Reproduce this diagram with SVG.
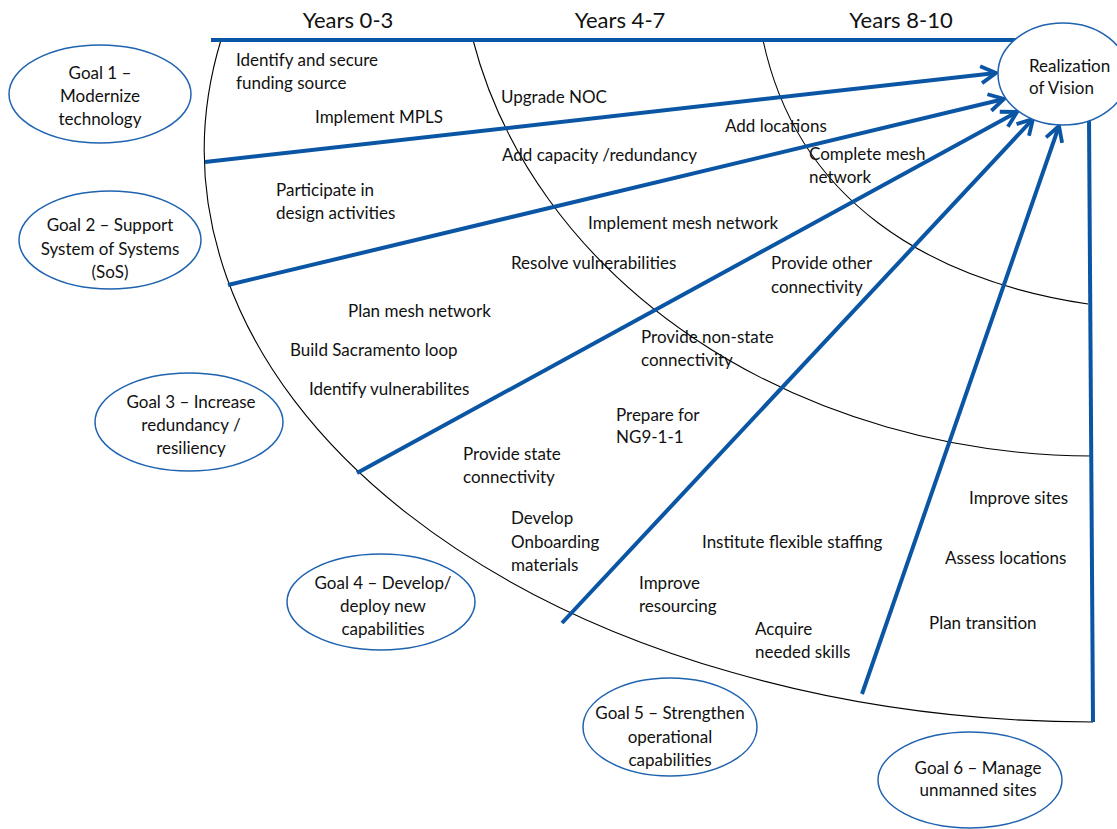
<svg xmlns="http://www.w3.org/2000/svg" width="1117" height="829" viewBox="0 0 1117 829">
  <style>
    text { font-family: Lato, "Open Sans", "Liberation Sans", sans-serif; fill: #111; }
    .task { font-size: 17px; }
    .goal text { font-size: 17px; text-anchor: middle; }
    .hdr { font-size: 22px; text-anchor: middle; }
    .oval { fill: #fff; stroke: #1F63B0; stroke-width: 1.5; }
    .arc { fill: none; stroke: #000; stroke-width: 1.1; }
    .link { fill: none; stroke: #0B56A4; stroke-width: 4; }
  </style>
  <defs>
    <marker id="arrow" markerUnits="userSpaceOnUse" markerWidth="30" markerHeight="30" viewBox="-20 -15 30 30" refX="0" refY="0" orient="auto">
      <path d="M-15,-8.5 L0,0 L-15,8.5" fill="none" stroke="#0B56A4" stroke-width="3.8"/>
    </marker>
  </defs>

  <rect width="1117" height="829" fill="#fff"/>

  <!-- timeline headers -->
  <g id="headers">
    <text class="hdr" x="348" y="28">Years 0-3</text>
    <text class="hdr" x="620" y="28">Years 4-7</text>
    <text class="hdr" x="901" y="28">Years 8-10</text>
  </g>

  <!-- period boundaries -->
  <g id="periods">
    <path class="arc" d="M221,40 A890,572 0 0 0 1093,722"/>
    <path class="arc" d="M473,40 A636,526 0 0 0 1092,456"/>
    <path class="arc" d="M763,40 C797,200 928,280 1088,304"/>
  </g>

  <!-- connectors -->
  <g id="connectors">
    <line class="link" x1="211" y1="40" x2="1017" y2="40"/>
    <line class="link" x1="205" y1="162" x2="996" y2="73" marker-end="url(#arrow)"/>
    <line class="link" x1="228" y1="285" x2="1004" y2="99" marker-end="url(#arrow)"/>
    <line class="link" x1="357" y1="473" x2="1017" y2="112" marker-end="url(#arrow)"/>
    <line class="link" x1="562" y1="623" x2="1033" y2="119" marker-end="url(#arrow)"/>
    <line class="link" x1="862" y1="694" x2="1059" y2="126" marker-end="url(#arrow)"/>
    <line class="link" x1="1089" y1="118" x2="1093" y2="722"/>
  </g>

  <g id="vision">
    <ellipse class="oval" cx="1063" cy="74" rx="65" ry="51"/>
    <text class="task" x="1029" y="72">Realization</text>
    <text class="task" x="1029" y="94">of Vision</text>
  </g>

  <g id="goal1" class="goal">
    <ellipse class="oval" cx="100" cy="94" rx="91" ry="49"/>
    <text x="100" y="79">Goal 1 –</text>
    <text x="100" y="102">Modernize</text>
    <text x="100" y="125">technology</text>
  </g>
  <g id="goal2" class="goal">
    <ellipse class="oval" cx="110" cy="240" rx="91" ry="49"/>
    <text x="110" y="231">Goal 2 – Support</text>
    <text x="110" y="255">System of Systems</text>
    <text x="110" y="278">(SoS)</text>
  </g>
  <g id="goal3" class="goal">
    <ellipse class="oval" cx="189" cy="422" rx="94" ry="49"/>
    <text x="191" y="408">Goal 3 – Increase</text>
    <text x="191" y="431">redundancy /</text>
    <text x="191" y="454">resiliency</text>
  </g>
  <g id="goal4" class="goal">
    <ellipse class="oval" cx="381" cy="602" rx="94" ry="48"/>
    <text x="383" y="589">Goal 4 – Develop/</text>
    <text x="383" y="612">deploy new</text>
    <text x="383" y="635">capabilities</text>
  </g>
  <g id="goal5" class="goal">
    <ellipse class="oval" cx="670" cy="727" rx="87" ry="49"/>
    <text x="670" y="719">Goal 5 – Strengthen</text>
    <text x="670" y="743">operational</text>
    <text x="670" y="766">capabilities</text>
  </g>
  <g id="goal6" class="goal">
    <ellipse class="oval" cx="970" cy="780" rx="92" ry="48"/>
    <text x="978" y="774">Goal 6 – Manage</text>
    <text x="978" y="796">unmanned sites</text>
  </g>

  <!-- activities -->
  <g id="tasks" class="task">
    <text x="236" y="66">Identify and secure</text>
    <text x="236" y="89">funding source</text>
    <text x="315" y="123">Implement MPLS</text>
    <text x="276" y="196">Participate in</text>
    <text x="276" y="219">design activities</text>
    <text x="501" y="103">Upgrade NOC</text>
    <text x="502" y="161">Add capacity /redundancy</text>
    <text x="588" y="229">Implement mesh network</text>
    <text x="511" y="269">Resolve vulnerabilities</text>
    <text x="725" y="132">Add locations</text>
    <text x="809" y="160">Complete mesh</text>
    <text x="809" y="183">network</text>
    <text x="771" y="269">Provide other</text>
    <text x="771" y="293">connectivity</text>
    <text x="348" y="317">Plan mesh network</text>
    <text x="290" y="356">Build Sacramento loop</text>
    <text x="309" y="395">Identify vulnerabilites</text>
    <text x="641" y="343">Provide non-state</text>
    <text x="641" y="366">connectivity</text>
    <text x="616" y="421">Prepare for</text>
    <text x="616" y="443">NG9-1-1</text>
    <text x="463" y="460">Provide state</text>
    <text x="463" y="483">connectivity</text>
    <text x="969" y="504">Improve sites</text>
    <text x="511" y="524">Develop</text>
    <text x="511" y="548">Onboarding</text>
    <text x="511" y="571">materials</text>
    <text x="702" y="548">Institute flexible staffing</text>
    <text x="945" y="564">Assess locations</text>
    <text x="639" y="589">Improve</text>
    <text x="639" y="612">resourcing</text>
    <text x="929" y="629">Plan transition</text>
    <text x="755" y="635">Acquire</text>
    <text x="755" y="658">needed skills</text>
  </g>
</svg>
